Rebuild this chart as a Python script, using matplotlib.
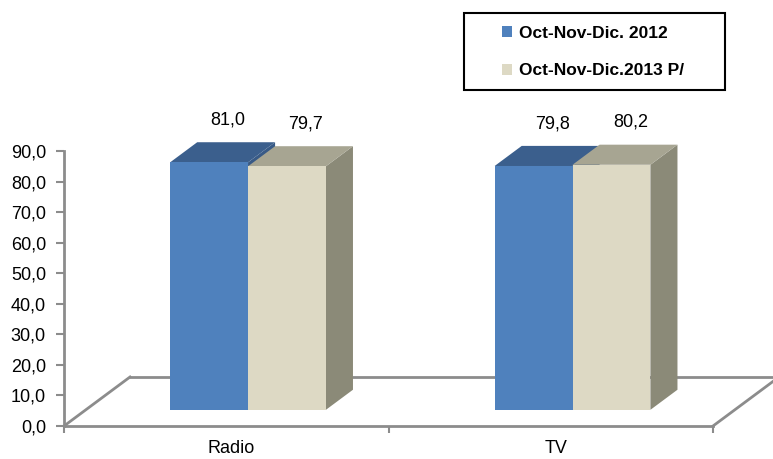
import numpy as np
import matplotlib.pyplot as plt
from matplotlib.patches import Polygon, Rectangle, Patch

plt.rcParams['font.family'] = ['Liberation Sans', 'DejaVu Sans']

categories = ['Radio', 'TV']
series_names = ['Oct-Nov-Dic. 2012', 'Oct-Nov-Dic.2013 P/']
values_2012 = [81.0, 79.8]
values_2013 = [79.7, 80.2]
series_values = [values_2012, values_2013]

# face colours: front, top, side
face_colors = [
    ('#4F81BD', '#3B5F8D', '#385A86'),
    ('#DDD9C4', '#A7A592', '#8B8A78'),
]

W, H = 773, 459
fig = plt.figure(figsize=(W / 100, H / 100), dpi=100)
ax = fig.add_axes([64 / W, 33 / H, 649 / W, 275 / H])
ax.set_xlim(0, len(categories))
ax.set_ylim(0, 90)

# oblique floor depth (in data units)
depth_x = 0.2034
depth_y = 16.04
d_front, d_back = 0.33, 0.74
bar_w = 0.24

floor_col = '#8C8C8C'
n = len(categories)
ax.plot([0, depth_x], [0, depth_y], color=floor_col, lw=2, clip_on=False, zorder=1)
ax.plot([n, n + depth_x], [0, depth_y], color=floor_col, lw=2, clip_on=False, zorder=1)
ax.plot([depth_x, n + depth_x], [depth_y, depth_y], color=floor_col, lw=2,
        clip_on=False, zorder=1)

fx, fy = d_front * depth_x, d_front * depth_y
bx, by = (d_back - d_front) * depth_x, (d_back - d_front) * depth_y

for i, cat in enumerate(categories):
    for j, vals in enumerate(series_values):
        v = vals[i]
        front, top, side = face_colors[j]
        x0 = i + 0.5 - bar_w + j * bar_w + fx
        y0 = fy
        y1 = y0 + v
        z = 3 + i * 2 + j
        ax.add_patch(Polygon([(x0 + bar_w, y0), (x0 + bar_w + bx, y0 + by),
                              (x0 + bar_w + bx, y1 + by), (x0 + bar_w, y1)],
                             closed=True, fc=side, ec='none', zorder=z, clip_on=False))
        ax.add_patch(Polygon([(x0, y1), (x0 + bar_w, y1),
                              (x0 + bar_w + bx, y1 + by), (x0 + bx, y1 + by)],
                             closed=True, fc=top, ec='none', zorder=z, clip_on=False))
        ax.add_patch(Rectangle((x0, y0), bar_w, v, fc=front, ec='none',
                               zorder=z, clip_on=False))
        ax.text(x0 + bar_w / 2 + bx * 0.7, y1 + by + 7.3, f'{v:.1f}'.replace('.', ','),
                ha='center', va='center', fontsize=13, clip_on=False, zorder=10)

for s in ['top', 'right']:
    ax.spines[s].set_visible(False)
for s in ['left', 'bottom']:
    ax.spines[s].set_color(floor_col)
    ax.spines[s].set_linewidth(2)
    ax.spines[s].set_zorder(2)

ax.set_yticks(np.arange(0, 91, 10))
ax.set_yticklabels([f'{t:.1f}'.replace('.', ',') for t in np.arange(0, 91, 10)],
                   fontsize=13)
ax.tick_params(axis='y', color=floor_col, width=1.5, length=6, pad=7)
ax.set_xticks(np.arange(0, n + 1))
ax.set_xticklabels([])
ax.tick_params(axis='x', which='major', color=floor_col, width=1.5, length=5)
ax.set_xticks(np.arange(n) + 0.515, minor=True)
ax.set_xticklabels(categories, minor=True, fontsize=13)
ax.tick_params(axis='x', which='minor', length=0, pad=10)
ax.patch.set_visible(False)

# legend box
fig.patches.append(Rectangle((464 / W, 1 - 90 / H), 261 / W, 77 / H,
                             transform=fig.transFigure, fc='white', ec='black',
                             lw=1.5, zorder=5))
handles = [Patch(fc=face_colors[k][0], ec='none') for k in range(len(series_names))]
leg = fig.legend(handles, series_names, loc='center left',
                 bbox_to_anchor=(502 / W, 1 - 52 / H), frameon=False,
                 prop={'weight': 'bold', 'size': 12.5}, handlelength=0.6,
                 handleheight=0.6, handletextpad=0.4, labelspacing=1.3,
                 borderpad=0, borderaxespad=0)
leg.set_zorder(6)

fig.savefig('out.png', dpi=100)
